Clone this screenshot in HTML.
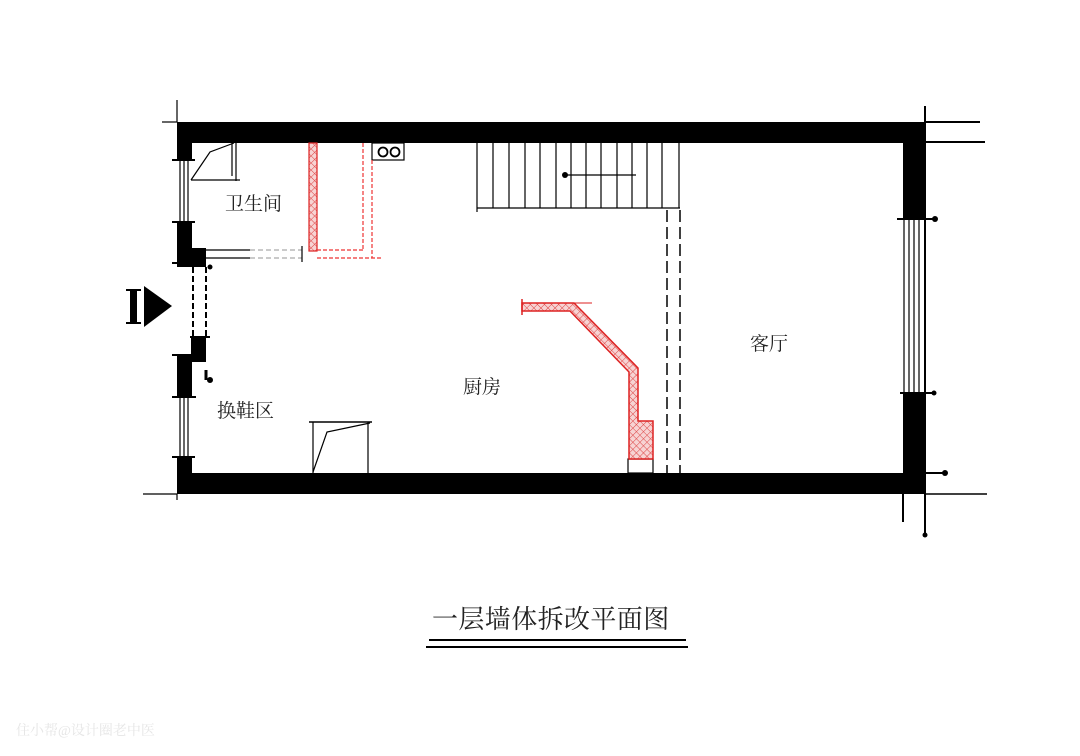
<!DOCTYPE html>
<html><head><meta charset="utf-8"><style>
html,body{margin:0;padding:0;background:#fff;}
svg{display:block;}
text{font-family:"Liberation Serif","Noto Serif CJK SC","Noto Sans CJK SC",serif;fill:#222;}
</style></head><body>
<svg width="1080" height="756" viewBox="0 0 1080 756" xmlns="http://www.w3.org/2000/svg">
<defs>
<pattern id="h" width="5" height="5" patternUnits="userSpaceOnUse" patternTransform="rotate(45)">
<rect width="5" height="5" fill="#f7d3d3"/><line x1="0" y1="0" x2="0" y2="5" stroke="#d44" stroke-width="1"/><line x1="0" y1="0" x2="5" y2="0" stroke="#d44" stroke-width="1"/>
</pattern>
</defs>
<g fill="#000">
<rect x="177" y="122" width="748" height="21"/>
<rect x="177" y="473" width="748" height="21"/>
<rect x="903" y="122" width="22" height="98"/>
<rect x="903" y="393" width="22" height="101"/>
<rect x="177" y="122" width="15" height="38"/>
<rect x="177" y="222" width="15" height="45"/>
<rect x="190" y="248" width="16" height="19"/>
<rect x="191" y="337" width="15" height="25"/>
<rect x="177" y="355" width="15" height="42"/>
<rect x="177" y="457" width="15" height="37"/>
</g>
<g stroke="#000" fill="none" stroke-width="1.2">
<line x1="180" y1="160" x2="180" y2="222"/><line x1="184" y1="160" x2="184" y2="222"/><line x1="188" y1="160" x2="188" y2="222"/>
<line x1="180" y1="397" x2="180" y2="457"/><line x1="184" y1="397" x2="184" y2="457"/><line x1="188" y1="397" x2="188" y2="457"/>
<line x1="172" y1="160" x2="195" y2="160" stroke-width="2"/><line x1="172" y1="222" x2="195" y2="222" stroke-width="2"/>
<line x1="172" y1="397" x2="196" y2="397" stroke-width="2"/><line x1="172" y1="457" x2="195" y2="457" stroke-width="2"/>
<line x1="172" y1="263" x2="206" y2="263" stroke-width="2"/><line x1="172" y1="355" x2="192" y2="355" stroke-width="2"/>
<line x1="190" y1="337" x2="210" y2="337" stroke-width="2"/><line x1="206" y1="370" x2="206" y2="380" stroke-width="3"/>
<line x1="193" y1="267" x2="193" y2="337" stroke-dasharray="6,3" stroke-width="2"/>
<line x1="206" y1="267" x2="206" y2="337" stroke-dasharray="6,3" stroke-width="2"/>
<line x1="904" y1="220" x2="904" y2="393"/><line x1="909" y1="220" x2="909" y2="393"/><line x1="914" y1="220" x2="914" y2="393"/><line x1="919" y1="220" x2="919" y2="393"/>
<line x1="897" y1="219" x2="935" y2="219" stroke-width="2"/><line x1="900" y1="393" x2="935" y2="393" stroke-width="2"/>
<line x1="177" y1="100" x2="177" y2="122"/><line x1="162" y1="122" x2="177" y2="122"/>
<line x1="177" y1="494" x2="177" y2="500"/><line x1="143" y1="494" x2="177" y2="494"/>
<line x1="925" y1="106" x2="925" y2="537" stroke-width="2"/>
<line x1="925" y1="122" x2="980" y2="122" stroke-width="2"/><line x1="925" y1="142" x2="985" y2="142" stroke-width="2"/>
<line x1="925" y1="473" x2="945" y2="473" stroke-width="2"/><line x1="925" y1="494" x2="987" y2="494" stroke-width="1.5"/>
<line x1="903" y1="494" x2="903" y2="522" stroke-width="2"/>
<polyline points="191,180 210,152 234,143"/><line x1="236" y1="143" x2="236" y2="181"/><line x1="191" y1="180" x2="240" y2="180"/>
<line x1="232" y1="143" x2="232" y2="176"/>
<line x1="206" y1="250" x2="250" y2="250"/><line x1="206" y1="258" x2="250" y2="258"/>
<line x1="250" y1="250" x2="302" y2="250" stroke="#aaa" stroke-dasharray="5,3"/><line x1="250" y1="258" x2="302" y2="258" stroke="#aaa" stroke-dasharray="5,3"/>
<line x1="302" y1="246" x2="302" y2="262"/>
<rect x="372" y="143" width="32" height="17"/>
<circle cx="383" cy="152" r="4.5" stroke-width="1.8"/><circle cx="395" cy="152" r="4.5" stroke-width="1.8"/>
<line x1="477" y1="208" x2="680" y2="208"/>
<line x1="477" y1="143" x2="477" y2="212"/><line x1="493" y1="143" x2="493" y2="208"/><line x1="509" y1="143" x2="509" y2="208"/><line x1="525" y1="143" x2="525" y2="208"/><line x1="540" y1="143" x2="540" y2="208"/><line x1="556" y1="143" x2="556" y2="208"/><line x1="571" y1="143" x2="571" y2="208"/><line x1="586" y1="143" x2="586" y2="208"/><line x1="601" y1="143" x2="601" y2="208"/><line x1="617" y1="143" x2="617" y2="208"/><line x1="632" y1="143" x2="632" y2="208"/><line x1="647" y1="143" x2="647" y2="208"/><line x1="662" y1="143" x2="662" y2="208"/><line x1="679" y1="143" x2="679" y2="208"/>
<line x1="567" y1="175" x2="636" y2="175"/>
<line x1="667" y1="210" x2="667" y2="473" stroke-dasharray="12,5" stroke-width="1.5"/>
<line x1="680" y1="210" x2="680" y2="473" stroke-dasharray="12,5" stroke-width="1.5"/>
<line x1="309" y1="422" x2="372" y2="422" stroke-width="1.5"/><line x1="313" y1="422" x2="313" y2="473"/><line x1="368" y1="422" x2="368" y2="473"/>
<polyline points="313,472 327,432 370,423"/>
<rect x="628" y="459" width="25" height="14"/>
</g>
<circle cx="565" cy="175" r="3" fill="#000"/>
<circle cx="935" cy="219" r="3" fill="#000"/><circle cx="934" cy="393" r="2.5" fill="#000"/><circle cx="945" cy="473" r="3" fill="#000"/>
<circle cx="925" cy="535" r="2.5" fill="#000"/><circle cx="210" cy="380" r="3" fill="#000"/><circle cx="210" cy="267" r="2.5" fill="#000"/>
<rect x="309" y="143" width="8" height="108" fill="url(#h)" stroke="#d22" stroke-width="1.2"/>
<g stroke="#e33" fill="none" stroke-width="1.2" stroke-dasharray="4,2">
<line x1="363" y1="143" x2="363" y2="250"/><line x1="372" y1="160" x2="372" y2="258"/>
<line x1="317" y1="250" x2="363" y2="250"/><line x1="317" y1="258" x2="381" y2="258"/>
</g>
<polygon points="522,303 574,303 638,368 638,421 653,421 653,459 629,459 629,372 570,311 522,311" fill="url(#h)" stroke="#d22" stroke-width="1.5"/>
<line x1="522" y1="299" x2="522" y2="315" stroke="#d22" stroke-width="1.5"/><line x1="574" y1="303" x2="592" y2="303" stroke="#d22"/>
<rect x="130" y="289" width="7" height="35" fill="#000"/>
<line x1="126" y1="290" x2="141" y2="290" stroke="#000" stroke-width="2"/><line x1="126" y1="323" x2="141" y2="323" stroke="#000" stroke-width="2"/>
<polygon points="144,286 172,306 144,327" fill="#000"/>
<text x="225" y="210" font-size="19">卫生间</text>
<text x="217" y="417" font-size="19">换鞋区</text>
<text x="463" y="393" font-size="19">厨房</text>
<text x="750" y="350" font-size="19">客厅</text>
<text x="432" y="628" font-size="26" letter-spacing="0.4">一层墙体拆改平面图</text>
<line x1="429" y1="640" x2="686" y2="640" stroke="#000" stroke-width="2"/>
<line x1="426" y1="647" x2="688" y2="647" stroke="#000" stroke-width="2"/>
<text x="16" y="735" font-size="14" style="fill:#e6e6e6">住小帮@设计圈老中医</text>
</svg>
</body></html>
